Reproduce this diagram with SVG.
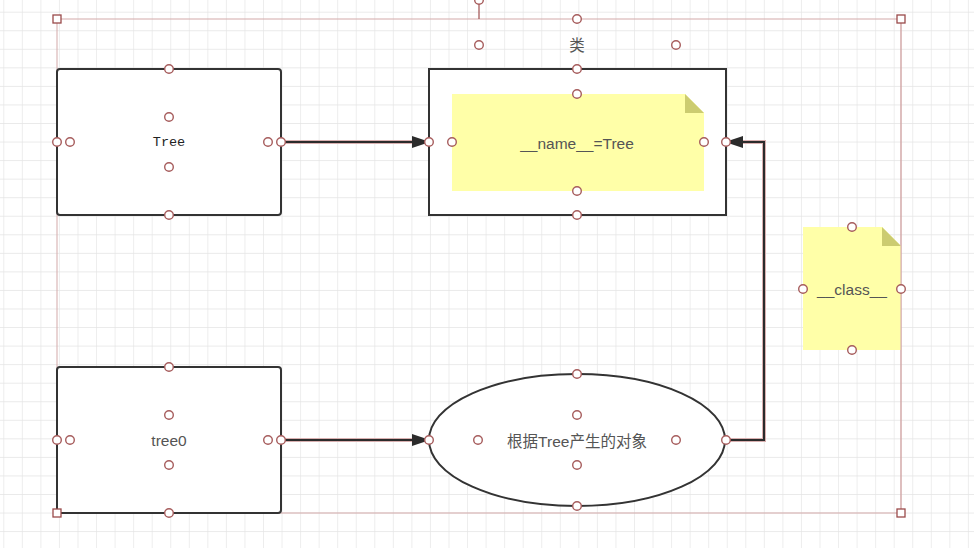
<svg xmlns="http://www.w3.org/2000/svg" width="974" height="548" viewBox="0 0 974 548">
<defs>
<pattern id="grid" width="18.55" height="18.55" patternUnits="userSpaceOnUse" x="3.3" y="11.7">
<path d="M0 0H18.55M0 0V18.55" fill="none" stroke="#e4e4e4" stroke-width="1.3"/>
</pattern>
<marker id="arr" viewBox="0 0 18 12" refX="17" refY="6" markerWidth="18" markerHeight="12" markerUnits="userSpaceOnUse" orient="auto">
<path d="M0 0L18 6L0 12Z" fill="#2b2b2b"/>
</marker>
<style>
.box{fill:#fff;stroke:#333;stroke-width:2}
.note{fill:#ffffa8}
.fold{fill:#cccc70}
.h{fill:#fff;stroke:#a65c5c;stroke-width:1.4}
.sq{fill:#fff;stroke:#9a4a4a;stroke-width:1.3}
.sel{fill:none;stroke:#d3a9a9;stroke-width:1}
.lbl{font-family:"Liberation Sans","Noto Sans CJK SC",sans-serif;font-size:15.5px;fill:#555;text-anchor:middle;dominant-baseline:central}
.halo{fill:none;stroke:#d9b0b0;stroke-width:4}
.wire{fill:none;stroke:#2b2b2b;stroke-width:2}
</style>
</defs>
<rect width="974" height="548" fill="#fff"/>
<rect width="974" height="548" fill="url(#grid)"/>

<g id="selection">
<rect class="sel" x="57" y="19" width="844" height="494"/>
<line x1="479" y1="0" x2="479" y2="19" stroke="#a65c5c" stroke-width="1.3"/>
<circle class="h" cx="479" cy="0" r="4.3"/>
</g>

<g id="connectors">
<path class="halo" d="M281 142H412"/>
<path class="wire" d="M281 142H429" marker-end="url(#arr)"/>
<path class="halo" d="M281 440H412"/>
<path class="wire" d="M281 440H429" marker-end="url(#arr)"/>
<path class="halo" d="M726 440H764V142H743"/>
<path class="wire" d="M726 440H764V142H726" marker-end="url(#arr)"/>
</g>

<g id="node-tree">
<rect class="box" x="57" y="69" width="224" height="146" rx="3"/>
<text x="169" y="142" font-family="Liberation Mono, monospace" font-size="13.5" fill="#222" text-anchor="middle" dominant-baseline="central">Tree</text>
</g>

<g id="node-class">
<text class="lbl" x="577" y="45">类</text>
<rect class="box" x="429" y="69" width="297" height="146"/>
<path class="note" d="M452 94H685L704 113V191H452Z"/>
<path class="fold" d="M685 94L704 113H685Z"/>
<text class="lbl" x="577" y="143">__name__=Tree</text>
</g>

<g id="node-class-note">
<path class="note" d="M803 227H882L901 246V350H803Z"/>
<path class="fold" d="M882 227L901 246H882Z"/>
<text class="lbl" x="852" y="289">__class__</text>
</g>

<g id="node-tree0">
<rect class="box" x="57" y="367" width="224" height="146" rx="3"/>
<text class="lbl" x="169" y="440">tree0</text>
</g>

<g id="node-object">
<ellipse class="box" cx="577" cy="440" rx="148" ry="66"/>
<text class="lbl" x="577" y="441">根据Tree产生的对象</text>
</g>

<g id="handles">
<line x1="901" y1="19" x2="901" y2="513" class="sel"/>
<rect class="sq" x="53" y="15" width="8" height="8"/>
<rect class="sq" x="897" y="15" width="8" height="8"/>
<rect class="sq" x="53" y="509" width="8" height="8"/>
<rect class="sq" x="897" y="509" width="8" height="8"/>
<circle class="h" cx="577" cy="19" r="4.3"/>
<circle class="h" cx="479" cy="45" r="4.3"/>
<circle class="h" cx="676" cy="45" r="4.3"/>
<circle class="h" cx="169" cy="69" r="4.3"/>
<circle class="h" cx="169" cy="117" r="4.3"/>
<circle class="h" cx="57" cy="142" r="4.3"/>
<circle class="h" cx="70" cy="142" r="4.3"/>
<circle class="h" cx="268" cy="142" r="4.3"/>
<circle class="h" cx="281" cy="142" r="4.3"/>
<circle class="h" cx="169" cy="167" r="4.3"/>
<circle class="h" cx="169" cy="215" r="4.3"/>
<circle class="h" cx="577" cy="69" r="4.3"/>
<circle class="h" cx="577" cy="94" r="4.3"/>
<circle class="h" cx="429" cy="142" r="4.3"/>
<circle class="h" cx="452" cy="142" r="4.3"/>
<circle class="h" cx="704" cy="142" r="4.3"/>
<circle class="h" cx="726" cy="142" r="4.3"/>
<circle class="h" cx="577" cy="191" r="4.3"/>
<circle class="h" cx="577" cy="215" r="4.3"/>
<circle class="h" cx="852" cy="227" r="4.3"/>
<circle class="h" cx="803" cy="289" r="4.3"/>
<circle class="h" cx="901" cy="289" r="4.3"/>
<circle class="h" cx="852" cy="350" r="4.3"/>
<circle class="h" cx="169" cy="367" r="4.3"/>
<circle class="h" cx="169" cy="415" r="4.3"/>
<circle class="h" cx="57" cy="440" r="4.3"/>
<circle class="h" cx="70" cy="440" r="4.3"/>
<circle class="h" cx="268" cy="440" r="4.3"/>
<circle class="h" cx="281" cy="440" r="4.3"/>
<circle class="h" cx="169" cy="465" r="4.3"/>
<circle class="h" cx="169" cy="513" r="4.3"/>
<circle class="h" cx="577" cy="374" r="4.3"/>
<circle class="h" cx="577" cy="415" r="4.3"/>
<circle class="h" cx="429" cy="440" r="4.3"/>
<circle class="h" cx="478" cy="440" r="4.3"/>
<circle class="h" cx="676" cy="440" r="4.3"/>
<circle class="h" cx="726" cy="440" r="4.3"/>
<circle class="h" cx="577" cy="465" r="4.3"/>
<circle class="h" cx="577" cy="506" r="4.3"/>
</g>
</svg>
